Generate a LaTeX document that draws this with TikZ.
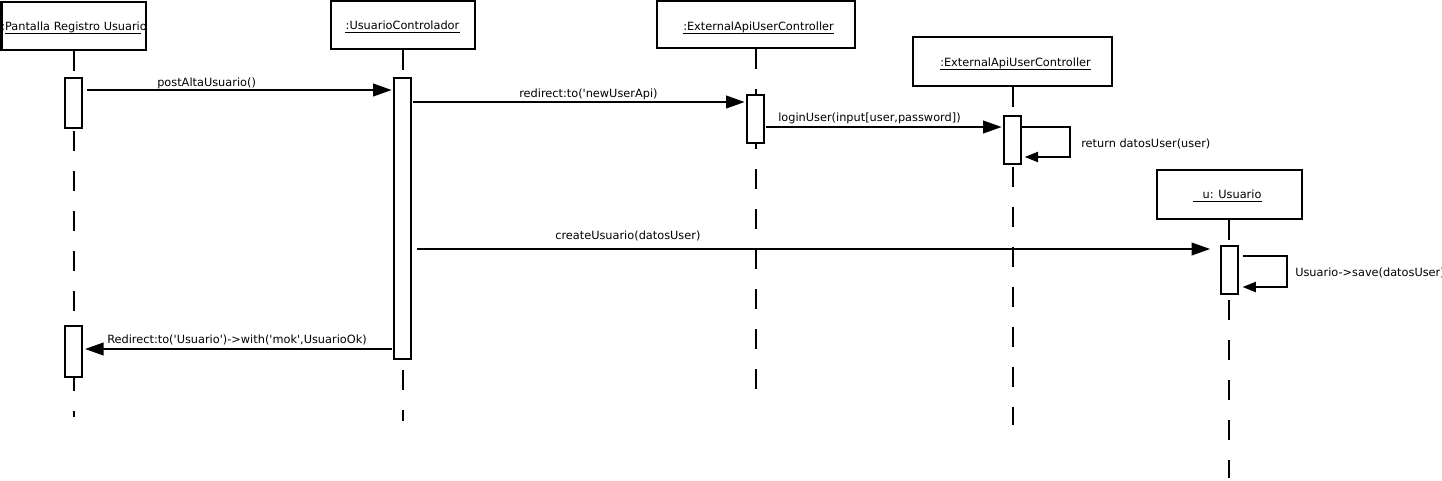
\documentclass[tikz,border=0pt]{standalone}
\usepackage{fontspec}
\setmainfont{DejaVu Sans}
\usetikzlibrary{arrows.meta,calc}
\begin{document}
\begin{tikzpicture}[x=0.75pt,y=-0.75pt,
  objbox/.style={draw, line width=1.5pt, fill=white, inner sep=0pt},
  actbox/.style={draw, line width=1.5pt, fill=white, minimum width=12.75pt, inner sep=0pt},
  lifeline/.style={line width=1.5pt, dash pattern=on 15pt off 15pt},
  msgarrow/.style={line width=1.5pt, -{Triangle[length=14pt,width=9.5pt]}},
  selfarrow/.style={line width=1.5pt, -{Triangle[length=10pt,width=7.5pt]}},
  lbl/.style={font=\fontsize{8.5pt}{10pt}\selectfont, inner sep=0pt},
  uline/.style={line width=0.75pt}]
\useasboundingbox (0,0) rectangle (1442,480);

% lifeline ends
\coordinate (e1) at (73.5,417);
\coordinate (e2) at (402.5,421);
\coordinate (e3) at (755.5,389);
\coordinate (e4) at (1012.5,425);
\coordinate (e5) at (1229,478);

% object boxes
\node[objbox, minimum width=108pt, minimum height=36pt] (b1) at (73.5,26) {};
\node[objbox, minimum width=108pt, minimum height=36pt] (b2) at (402.5,25) {};
\node[objbox, minimum width=148.5pt, minimum height=35.25pt] (b3) at (755.5,24.5) {};
\node[objbox, minimum width=149.25pt, minimum height=36.75pt] (b4) at (1012.5,61.5) {};
\node[objbox, minimum width=108.75pt, minimum height=36.75pt] (b5) at (1229,194.5) {};

% lifelines
\begin{scope}[on background layer/.style={}]
\draw[lifeline] (b1.south) -- (e1);
\draw[lifeline] (b2.south) -- (e2);
\draw[lifeline] (b3.south) -- (e3);
\draw[lifeline] (b4.south) -- (e4);
\draw[lifeline] (b5.south) -- (e5);
\end{scope}

% header texts
\begin{scope}
\clip (b1.south west) rectangle (b1.north east);
\node[lbl, anchor=base west] (t1) at (1,30) {:Pantalla Registro Usuario};
\end{scope}
\draw[uline] (5,33) -- (141,33);
\node[lbl, anchor=base] (t2) at (402.5,29) {:UsuarioControlador\hspace{2.5pt}};
\draw[uline] ([yshift=-2.4pt]t2.base west) -- ([yshift=-2.4pt]t2.base east);
\node[lbl, anchor=base] (t3) at (758.5,30) {:ExternalApiUserController\hspace{7.5pt}};
\draw[uline] ([yshift=-2.4pt]t3.base west) -- ([yshift=-2.4pt]t3.base east);
\node[lbl, anchor=base] (t4) at (1015.5,66.5) {:ExternalApiUserController\hspace{7.5pt}};
\draw[uline] ([yshift=-2.4pt]t4.base west) -- ([yshift=-2.4pt]t4.base east);
\node[lbl, anchor=base] (t5) at (1227.5,198.5) {\hspace{6.75pt}u: Usuario\hspace{5.25pt}};
\draw[uline] ([yshift=-2.4pt]t5.base west) -- ([yshift=-2.4pt]t5.base east);

% activations
\node[actbox, minimum height=37.5pt] (A1) at (73.5,103) {};
\node[actbox, minimum height=210.75pt] (A2) at (402.5,218.5) {};
\node[actbox, minimum height=36pt] (A3) at (755.5,119) {};
\node[actbox, minimum height=36pt] (A4) at (1012.5,140) {};
\node[actbox, minimum height=36pt] (A5) at (1229,270) {};
\node[actbox, minimum height=38.25pt] (A6) at (73.5,351.5) {};

% message levels
\coordinate (y1) at (0,90);
\coordinate (y2) at (0,102);
\coordinate (y3) at (0,127);
\coordinate (y3b) at (0,157);
\coordinate (y4) at (0,249);
\coordinate (y5) at (0,256);
\coordinate (y5b) at (0,287);
\coordinate (y6) at (0,349);

% messages
\draw[msgarrow, shorten <=3pt, shorten >=1pt] (A1.east |- y1) -- (A2.west |- y1);
\draw[msgarrow, shorten <=1pt, shorten >=1pt] (A2.east |- y2) -- (A3.west |- y2);
\draw[msgarrow, shorten <=1pt, shorten >=1pt] (A3.east |- y3) -- (A4.west |- y3);
\draw[selfarrow, shorten >=2pt] (A4.east |- y3) -- ++(48,0) |- (A4.east |- y3b);
\draw[msgarrow, shorten <=4pt, shorten >=7pt] (A2.east |- y4) -- (A5.west |- y4);
\draw[selfarrow, shorten <=3pt, shorten >=3pt] (A5.east |- y5) -- ++(48,0) |- (A5.east |- y5b);
\draw[msgarrow, shorten <=1pt, shorten >=1.5pt] (A2.west |- y6) -- (A6.east |- y6);

% labels
\node[lbl, anchor=base west] (m1) at (157,86) {postAltaUsuario()};
\node[lbl, anchor=base west] (m2) at (519,97) {redirect:to(\textquotesingle newUserApi)};
\node[lbl, anchor=base west] (m3) at (778,121.5) {loginUser(input[user,password])};
\node[lbl, anchor=base west] (m4) at (1081,147) {return datosUser(user)};
\node[lbl, anchor=base west] (m5) at (555,239) {createUsuario(datosUser)};
\node[lbl, anchor=base west] (m6) at (1295,276) {Usuario->save(datosUser)};
\node[lbl, anchor=base west] (m7) at (107,343) {Redirect:to(\textquotesingle Usuario\textquotesingle)->with(\textquotesingle mok\textquotesingle,UsuarioOk)};
\end{tikzpicture}
\end{document}
